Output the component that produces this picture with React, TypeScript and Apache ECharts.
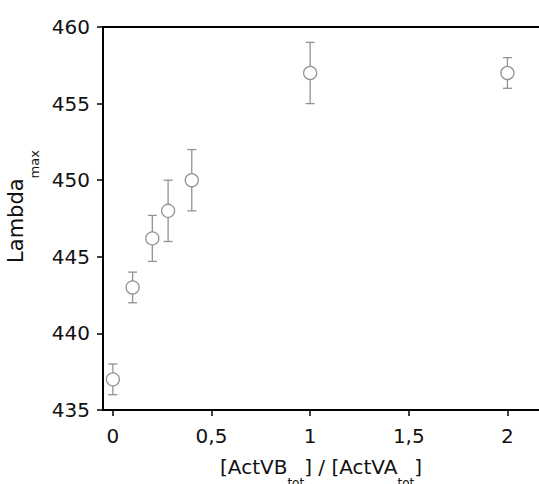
import React, { useEffect, useRef } from "react";
import * as echarts from "echarts";

const ratios = [0, 0.1, 0.2, 0.28, 0.4, 1, 2];
const lambdaMax = [437, 443, 446.2, 448, 450, 457, 457];
const lambdaErr = [1, 1, 1.5, 2, 2, 2, 1];
const xTicks = [0, 0.5, 1, 1.5, 2];
const yTickMin = 435;
const yTickMax = 460;

const FONT = "DejaVu Sans";

export default function App() {
  const ref = useRef<HTMLDivElement>(null);
  useEffect(() => {
    if (!ref.current) return;
    const chart = echarts.init(ref.current, null, { renderer: "svg" });
    const points = ratios.map((x, i) => [x, lambdaMax[i]]);
    const errData = ratios.map((x, i) => [x, lambdaMax[i] - lambdaErr[i], lambdaMax[i] + lambdaErr[i]]);
    chart.setOption({
      animation: false,
      backgroundColor: "#fff",
      grid: { left: 103, right: 0, top: 27, bottom: 74, containLabel: false, outerBoundsMode: "none" },
      xAxis: [
        {
          type: "value",
          min: -0.05,
          max: 2.16,
          name: "{a|[ActVB}{s|tot}{a|] / [ActVA}{s|tot}{a|]}",
          nameLocation: "middle",
          nameGap: 35,
          nameTextStyle: {
            rich: {
              a: { fontSize: 20, lineHeight: 44, fontFamily: FONT, color: "#111", verticalAlign: "middle" },
              s: { fontSize: 12, lineHeight: 4, fontFamily: FONT, color: "#111", verticalAlign: "bottom" },
            },
          },
          axisLine: { show: true, onZero: false, lineStyle: { color: "#000", width: 2 } },
          axisTick: { show: true, customValues: xTicks, length: 6, lineStyle: { color: "#000", width: 1.5 } },
          axisLabel: {
            customValues: xTicks,
            margin: 16,
            fontSize: 20,
            fontFamily: FONT,
            color: "#111",
            formatter: (v: number) => String(v).replace(".", ","),
          },
          splitLine: { show: false },
        },
        {
          type: "value",
          position: "top",
          min: -0.05,
          max: 2.16,
          axisLine: { show: true, onZero: false, lineStyle: { color: "#000", width: 2 } },
          axisTick: { show: false },
          axisLabel: { show: false },
          splitLine: { show: false },
        },
      ],
      yAxis: {
        type: "value",
        min: yTickMin,
        max: yTickMax,
        interval: 5,
        name: "{a|Lambda}{s|max}",
        nameLocation: "middle",
        nameGap: 60,
        nameTextStyle: {
          padding: [0, 0, 0, 24],
          rich: {
            a: { fontSize: 21, lineHeight: 50, fontFamily: FONT, color: "#111", verticalAlign: "middle" },
            s: { fontSize: 13, lineHeight: 8, fontFamily: FONT, color: "#111", verticalAlign: "bottom" },
          },
        },
        axisLine: { show: true, onZero: false, lineStyle: { color: "#000", width: 2 } },
        axisTick: { show: true, length: 6, lineStyle: { color: "#000", width: 1.5 } },
        axisLabel: { margin: 13, fontSize: 20, fontFamily: FONT, color: "#111" },
        splitLine: { show: false },
      },
      series: [
        {
          type: "custom",
          xAxisIndex: 0,
          z: 1,
          data: errData,
          renderItem: (params: any, api: any) => {
            const x = api.value(0);
            const lo = api.coord([x, api.value(1)]);
            const hi = api.coord([x, api.value(2)]);
            const cap = 4.5;
            const style = { stroke: "#929292", lineWidth: 1.3 };
            return {
              type: "group",
              children: [
                { type: "line", shape: { x1: lo[0], y1: lo[1], x2: hi[0], y2: hi[1] }, style },
                { type: "line", shape: { x1: lo[0] - cap, y1: lo[1], x2: lo[0] + cap, y2: lo[1] }, style },
                { type: "line", shape: { x1: hi[0] - cap, y1: hi[1], x2: hi[0] + cap, y2: hi[1] }, style },
              ],
            };
          },
        },
        {
          type: "scatter",
          xAxisIndex: 0,
          z: 2,
          data: points,
          symbol: "circle",
          symbolSize: 13,
          itemStyle: { color: "#fff", borderColor: "#929292", borderWidth: 1.3, opacity: 1 },
        },
      ],
    });
    return () => chart.dispose();
  }, []);
  return (
    <div
      ref={ref}
      style={{ position: "fixed", left: 0, top: 0, width: 539, height: 484, background: "#fff" }}
    />
  );
}
